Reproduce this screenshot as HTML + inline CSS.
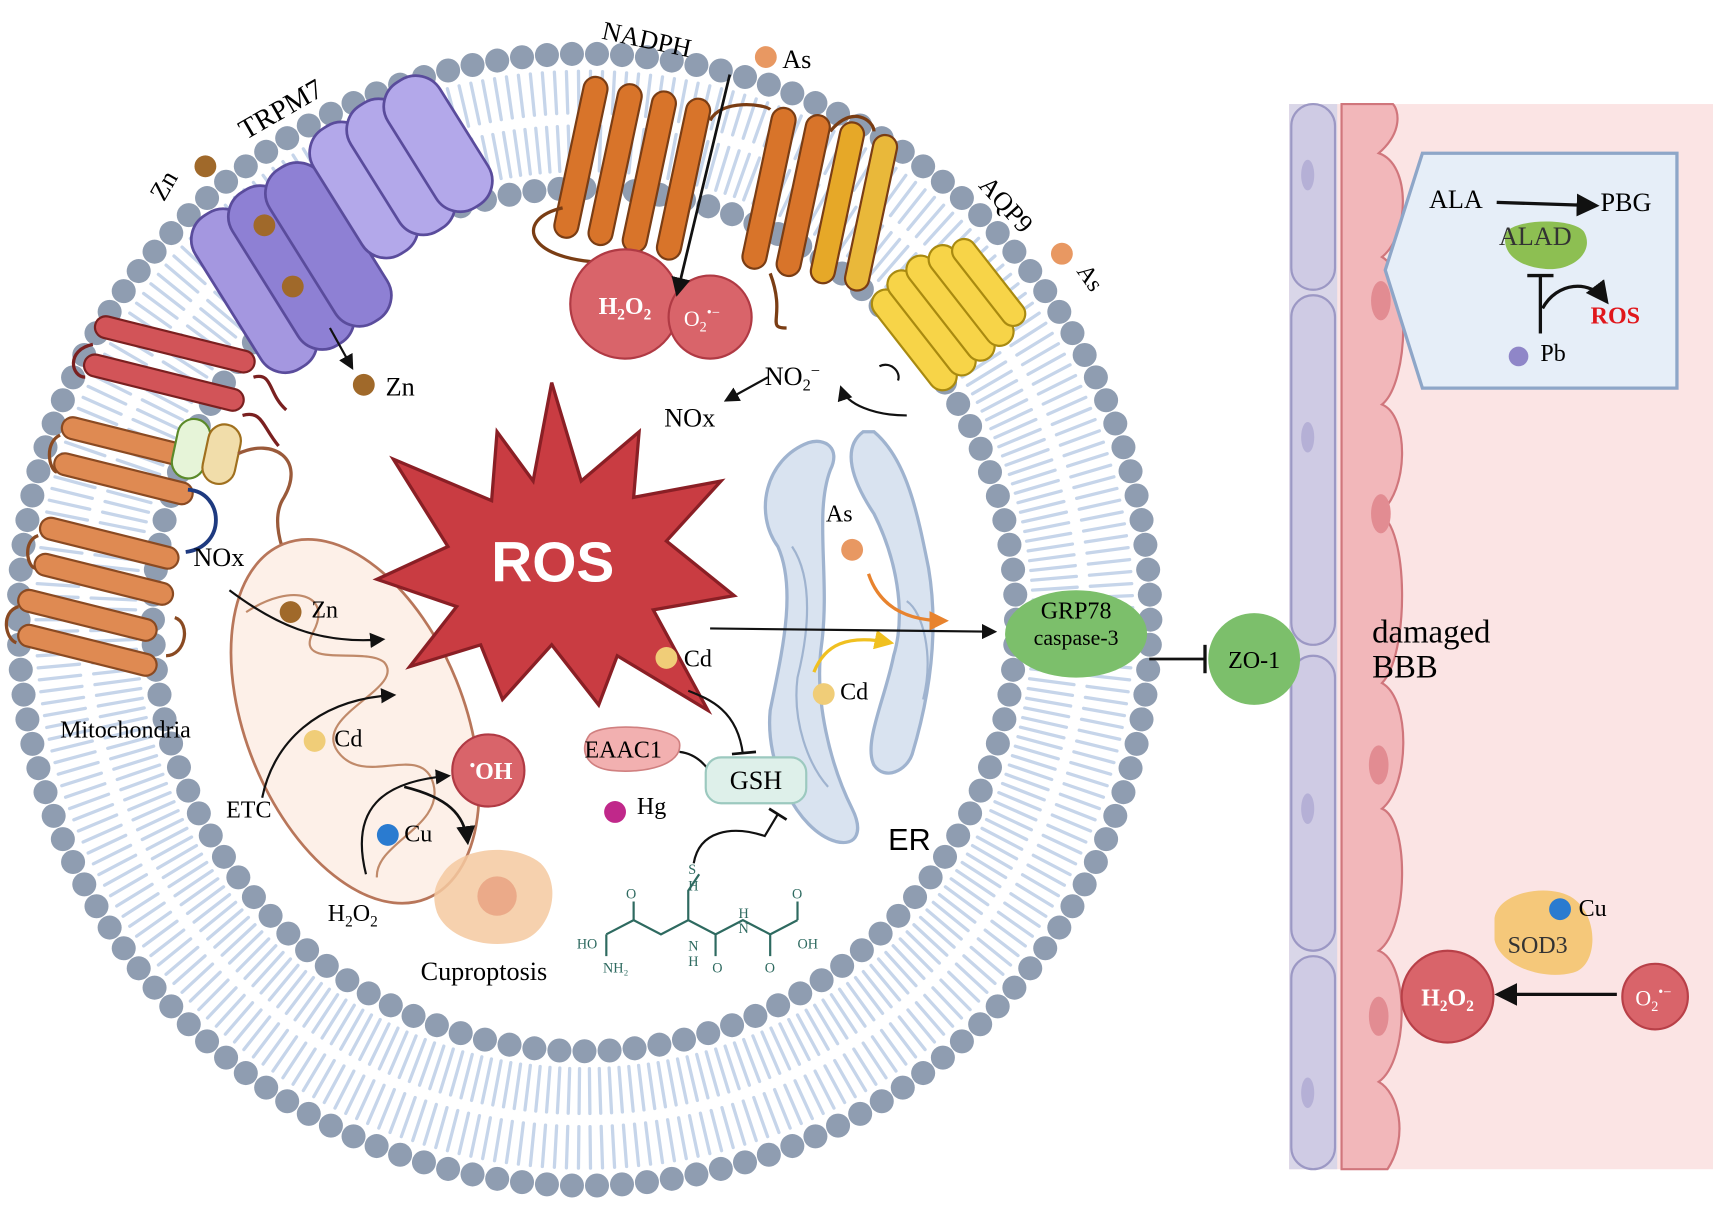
<!DOCTYPE html>
<html><head><meta charset="utf-8"><style>
html,body{margin:0;padding:0;background:#fff;}
svg{display:block;}
text{font-family:"Liberation Serif",serif;}
.sans{font-family:"Liberation Sans",sans-serif;}
</style></head><body>
<svg id="s" width="1713" height="1211" viewBox="0 0 1568 1108" xmlns="http://www.w3.org/2000/svg">
<defs>
<marker id="ah" viewBox="0 0 10 10" refX="8" refY="5" markerWidth="7" markerHeight="7" orient="auto"><path d="M0,0 L10,5 L0,10 z" fill="#111"/></marker>
<marker id="aho" viewBox="0 0 10 10" refX="8" refY="5" markerWidth="6" markerHeight="6" orient="auto"><path d="M0,0 L10,5 L0,10 z" fill="#e8832e"/></marker>
<marker id="ahy" viewBox="0 0 10 10" refX="8" refY="5" markerWidth="6" markerHeight="6" orient="auto"><path d="M0,0 L10,5 L0,10 z" fill="#f0c020"/></marker>
</defs>

<!-- right panel -->
<rect x="1180" y="95" width="388" height="975" fill="#fbe4e4"/>
<rect x="1180" y="95" width="44" height="975" fill="#d9d6e8"/>
<g fill="#cfcbe4" stroke="#9c98c4" stroke-width="2">
<rect x="1182" y="95" width="40" height="170" rx="20"/>
<rect x="1182" y="270" width="40" height="320" rx="20"/>
<rect x="1182" y="600" width="40" height="270" rx="20"/>
<rect x="1182" y="875" width="40" height="195" rx="20"/>
</g>
<g fill="#b5b0d6"><ellipse cx="1197" cy="160" rx="6" ry="14"/><ellipse cx="1197" cy="400" rx="6" ry="14"/><ellipse cx="1197" cy="740" rx="6" ry="14"/><ellipse cx="1197" cy="1000" rx="6" ry="14"/></g>
<g fill="#f2b7ba" stroke="#d0767c" stroke-width="2">
<path d="M1228,95 L1228,1070 L1270,1070 C1290,1040 1280,1000 1262,990 C1290,970 1290,880 1262,870 C1290,850 1290,750 1265,740 C1290,720 1292,640 1265,625 C1290,600 1290,480 1262,470 C1290,450 1290,380 1265,370 C1290,350 1292,250 1265,235 C1290,215 1292,150 1262,140 C1285,120 1280,100 1275,95 Z"/>
</g>
<g fill="#e28c92"><ellipse cx="1264" cy="275" rx="9" ry="18"/><ellipse cx="1264" cy="470" rx="9" ry="18"/><ellipse cx="1262" cy="700" rx="9" ry="18"/><ellipse cx="1262" cy="930" rx="9" ry="18"/></g>
<text x="1256" y="588" font-size="30">damaged</text>
<text x="1256" y="620" font-size="30">BBB</text>
<!-- inset -->
<path d="M1302,140 L1535,140 L1535,355 L1302,355 L1268,247 Z" fill="#e6eef8" stroke="#8ea6c8" stroke-width="3"/>
<text x="1308" y="190" font-size="24">ALA</text>
<line x1="1370" y1="185" x2="1460" y2="188" stroke="#111" stroke-width="3" marker-end="url(#ah)"/>
<text x="1465" y="193" font-size="24">PBG</text>
<path d="M1378,215 C1380,200 1440,198 1450,212 C1460,230 1440,248 1415,246 C1390,244 1375,232 1378,215 Z" fill="#8dbf52"/>
<text x="1372" y="224" font-size="24" fill="#333">ALAD</text>
<line x1="1410" y1="305" x2="1410" y2="252" stroke="#111" stroke-width="3"/>
<line x1="1398" y1="252" x2="1422" y2="252" stroke="#111" stroke-width="3"/>
<path d="M1412,282 C1425,258 1455,255 1470,275" fill="none" stroke="#111" stroke-width="3" marker-end="url(#ah)"/>
<text x="1456" y="296" font-size="22" font-weight="bold" fill="#e0161b">ROS</text>
<circle cx="1390" cy="326" r="9" fill="#8f86c8"/>
<text x="1410" y="330" font-size="22">Pb</text>
<!-- SOD3 -->
<path d="M1368,840 C1372,815 1420,808 1440,822 C1465,840 1462,885 1440,890 C1410,898 1372,882 1368,860 Z" fill="#f5c87a"/>
<text x="1380" y="872" font-size="22" fill="#333">SOD3</text>
<circle cx="1428" cy="832" r="10" fill="#2a7bd0"/>
<text x="1445" y="838" font-size="22">Cu</text>
<circle cx="1325" cy="912" r="42" fill="#d9646a" stroke="#b84048" stroke-width="2"/>
<text x="1325" y="920" font-size="22" fill="#fff" font-weight="bold" text-anchor="middle">H<tspan font-size="14" dy="5">2</tspan><tspan dy="-5">O</tspan><tspan font-size="14" dy="5">2</tspan></text>
<circle cx="1515" cy="912" r="30" fill="#d9646a" stroke="#b84048" stroke-width="2"/>
<text x="1497" y="920" font-size="20" fill="#fff">O<tspan font-size="13" dy="5">2</tspan><tspan font-size="13" dy="-13">•−</tspan></text>
<line x1="1480" y1="910" x2="1372" y2="910" stroke="#111" stroke-width="3" marker-end="url(#ah)"/>

<!-- membrane -->
<g id="mem"></g>

<!-- TRPM7 -->
<g transform="rotate(-32 300 215)" stroke="#5a4c9c" stroke-width="2.5">
<rect x="188" y="140" width="56" height="165" rx="26" fill="#a497e0"/>
<rect x="228" y="140" width="56" height="165" rx="26" fill="#8e80d4"/>
<rect x="268" y="140" width="56" height="165" rx="26" fill="#8e80d4"/>
<rect x="322" y="130" width="56" height="135" rx="26" fill="#b3a8ea"/>
<rect x="362" y="130" width="56" height="135" rx="26" fill="#b3a8ea"/>
<rect x="402" y="130" width="56" height="135" rx="26" fill="#b3a8ea"/>
</g>
<circle cx="242" cy="206" r="10" fill="#a0692a"/><circle cx="268" cy="262" r="10" fill="#a0692a"/>
<circle cx="188" cy="152" r="10" fill="#a0692a"/>
<text x="150" y="185" font-size="24" transform="rotate(-60 150 185)">Zn</text>
<text x="225" y="128" font-size="26" transform="rotate(-30 225 128)">TRPM7</text>
<line x1="302" y1="300" x2="322" y2="336" stroke="#111" stroke-width="2" marker-end="url(#ah)"/>
<circle cx="333" cy="352" r="10" fill="#a0692a"/><text x="353" y="362" font-size="24">Zn</text>

<!-- NADPH -->
<text x="550" y="35" font-size="24" transform="rotate(12 550 35)">NADPH</text>
<circle cx="701" cy="52" r="10" fill="#e89862"/><text x="716" y="62" font-size="24">As</text>
<g stroke="#7a3d14" stroke-width="2" fill="#d8742a">
<g transform="rotate(12 560 160)">
<rect x="518" y="75" width="22" height="150" rx="11"/><rect x="550" y="75" width="22" height="150" rx="11"/><rect x="582" y="75" width="22" height="150" rx="11"/><rect x="614" y="75" width="22" height="150" rx="11"/>
</g>
<g transform="rotate(12 740 190)">
<rect x="690" y="105" width="22" height="150" rx="11"/><rect x="722" y="105" width="22" height="150" rx="11"/>
<rect x="754" y="105" width="22" height="150" rx="11" fill="#e6a828"/><rect x="786" y="110" width="22" height="145" rx="11" fill="#e9b83a"/>
</g>
</g>
<path d="M515,190 C470,200 480,240 560,240 M650,110 C660,90 700,95 705,100 M705,250 C720,290 700,300 720,300 M760,120 C780,95 800,110 800,120" fill="none" stroke="#7a3d14" stroke-width="3"/>
<circle cx="572" cy="278" r="50" fill="#d9646a" stroke="#b03a44" stroke-width="2"/>
<text x="572" y="287" font-size="22" fill="#fff" font-weight="bold" text-anchor="middle">H<tspan font-size="14" dy="5">2</tspan><tspan dy="-5">O</tspan><tspan font-size="14" dy="5">2</tspan></text>
<circle cx="650" cy="290" r="38" fill="#d9646a" stroke="#b03a44" stroke-width="2"/>
<text x="626" y="298" font-size="20" fill="#fff">O<tspan font-size="13" dy="5">2</tspan><tspan font-size="13" dy="-13">•−</tspan></text>
<line x1="668" y1="68" x2="620" y2="268" stroke="#111" stroke-width="2.5" marker-end="url(#ah)"/>

<!-- AQP9 -->
<text x="895" y="170" font-size="24" transform="rotate(48 895 170)">AQP9</text>
<circle cx="972" cy="232" r="10" fill="#e89862"/><text x="985" y="248" font-size="22" transform="rotate(55 985 248)">As</text>
<g transform="rotate(-38 870 285)" fill="#f7d448" stroke="#a98a10" stroke-width="2">
<rect x="815" y="230" width="26" height="110" rx="13"/><rect x="837" y="225" width="26" height="115" rx="13"/><rect x="859" y="225" width="26" height="115" rx="13"/><rect x="881" y="230" width="26" height="110" rx="13"/><rect x="903" y="238" width="22" height="95" rx="11"/>
</g>
<text x="700" y="352" font-size="24">NO<tspan font-size="15" dy="5">2</tspan><tspan font-size="15" dy="-13">−</tspan></text>
<text x="608" y="390" font-size="24">NOx</text>
<line x1="703" y1="345" x2="665" y2="366" stroke="#111" stroke-width="2" marker-end="url(#ah)"/>
<path d="M830,380 C800,380 775,370 770,355" fill="none" stroke="#111" stroke-width="2" marker-end="url(#ah)"/>
<path d="M805,335 C815,330 825,340 822,348" fill="none" stroke="#111" stroke-width="2"/>

<!-- left membrane proteins -->
<g stroke="#7a2020" stroke-width="2" fill="#d25458">
<rect x="85" y="305" width="150" height="20" rx="10" transform="rotate(14 160 315)"/>
<rect x="75" y="340" width="150" height="20" rx="10" transform="rotate(14 150 350)"/>
</g>
<path d="M85,315 C60,320 65,345 78,345 M232,345 C250,340 245,360 262,375 M222,380 C240,375 240,390 255,408" fill="none" stroke="#7a2020" stroke-width="3"/>
<g stroke="#8a4a22" stroke-width="2" fill="#df8a52">
<rect x="55" y="395" width="130" height="20" rx="10" transform="rotate(14 120 405)"/>
<rect x="48" y="428" width="130" height="20" rx="10" transform="rotate(14 113 438)"/>
<rect x="35" y="487" width="130" height="20" rx="10" transform="rotate(14 100 497)"/>
<rect x="30" y="520" width="130" height="20" rx="10" transform="rotate(14 95 530)"/>
<rect x="15" y="553" width="130" height="20" rx="10" transform="rotate(14 80 563)"/>
<rect x="15" y="585" width="130" height="20" rx="10" transform="rotate(14 80 595)"/>
</g>
<path d="M55,398 C40,405 45,430 52,432 M35,490 C20,495 25,520 33,520 M17,555 C0,560 5,585 15,588 M160,565 C175,570 170,600 152,600" fill="none" stroke="#8a4a22" stroke-width="3"/>
<path d="M172,448 C205,450 208,500 170,505" fill="none" stroke="#1e3a80" stroke-width="3.5"/>
<rect x="160" y="383" width="30" height="55" rx="15" fill="#e6f4d8" stroke="#5b8a2a" stroke-width="2" transform="rotate(12 175 410)"/>
<rect x="188" y="388" width="30" height="55" rx="15" fill="#f1ddaa" stroke="#a0701e" stroke-width="2" transform="rotate(12 203 415)"/>
<path d="M218,415 C250,400 280,420 260,455 C250,470 255,490 258,500" fill="none" stroke="#9a5a3a" stroke-width="3"/>
<text x="177" y="518" font-size="24">NOx</text>

<!-- mitochondria -->
<g transform="rotate(-22 325 660)">
<ellipse cx="325" cy="660" rx="100" ry="175" fill="#fdf0e8" stroke="#b8765a" stroke-width="2.5"/>
<path d="M270,530 C320,520 350,545 320,570 C290,595 360,600 370,620 C380,650 290,640 300,680 C310,720 375,700 370,740 C365,780 300,770 290,800" fill="none" stroke="#c08a6a" stroke-width="2"/>
</g>
<path d="M210,540 C250,570 290,590 350,585" fill="none" stroke="#111" stroke-width="2" marker-end="url(#ah)"/>
<circle cx="266" cy="560" r="10" fill="#a0692a"/><text x="285" y="565" font-size="22">Zn</text>
<path d="M240,730 C250,680 290,640 360,636" fill="none" stroke="#111" stroke-width="2" marker-end="url(#ah)"/>
<circle cx="288" cy="678" r="10" fill="#f0cd78"/><text x="306" y="683" font-size="22">Cd</text>
<text x="55" y="675" font-size="22">Mitochondria</text>
<text x="207" y="748" font-size="22">ETC</text>
<path d="M335,800 C320,740 350,715 410,710" fill="none" stroke="#111" stroke-width="2" marker-end="url(#ah)"/>
<path d="M370,720 C410,730 425,745 428,770" fill="none" stroke="#111" stroke-width="2.5" marker-end="url(#ah)"/>
<circle cx="355" cy="764" r="10" fill="#2a7bd0"/><text x="370" y="770" font-size="22">Cu</text>
<text x="300" y="843" font-size="22">H<tspan font-size="14" dy="5">2</tspan><tspan dy="-5">O</tspan><tspan font-size="14" dy="5">2</tspan></text>
<circle cx="447" cy="705" r="33" fill="#d9646a" stroke="#b03a44" stroke-width="2"/>
<text x="430" y="713" font-size="22" fill="#fff" font-weight="bold"><tspan font-size="14" dy="-8">•</tspan><tspan dy="8">OH</tspan></text>
<!-- cuproptosis -->
<path d="M405,800 C420,775 470,770 495,790 C515,810 505,850 480,860 C450,870 410,860 400,835 C395,820 398,810 405,800 Z" fill="#f5c9a0" opacity="0.85"/>
<circle cx="455" cy="820" r="18" fill="#e8a080" opacity="0.8"/>
<text x="385" y="897" font-size="24">Cuproptosis</text>

<!-- ROS star -->
<path d="M505,350 L532,440 L585,395 L580,455 L660,440 L610,495 L672,545 L598,558 L648,650 L565,600 L548,645 L505,590 L460,640 L440,590 L375,610 L418,555 L345,530 L410,500 L360,420 L450,458 L455,395 L488,440 Z" fill="#c93c42" stroke="#8a1f25" stroke-width="3"/>
<text x="506" y="532" font-size="52" font-weight="bold" fill="#fff" text-anchor="middle" class="sans">ROS</text>

<!-- ER -->
<g fill="none" stroke="#9fb3cf" stroke-width="3">
<path d="M740,405 C700,420 690,470 712,500 C730,540 715,600 705,650 C700,700 730,760 765,770 C785,775 790,760 780,740 C760,700 745,640 752,590 C760,530 745,470 760,430 C770,410 755,400 740,405 Z" fill="#d9e3f0"/>
<path d="M790,395 C770,410 780,440 800,470 C820,510 830,560 818,600 C810,640 790,680 800,700 C810,715 830,705 835,690 C850,640 860,580 850,520 C840,470 830,420 800,395 Z" fill="#d9e3f0"/>
<path d="M725,500 C745,530 740,580 730,620 C725,660 740,700 758,720" stroke-width="2"/>
<path d="M830,550 C845,560 855,600 845,640" stroke-width="2"/>
</g>
<text x="813" y="778" font-size="28" class="sans">ER</text>
<text x="756" y="477" font-size="22">As</text>
<circle cx="780" cy="503" r="10" fill="#e89862"/>
<path d="M795,525 C805,555 830,568 865,568" fill="none" stroke="#e8832e" stroke-width="3" marker-end="url(#aho)"/>
<circle cx="754" cy="635" r="10" fill="#f0cd78"/><text x="769" y="640" font-size="22">Cd</text>
<path d="M745,615 C755,590 775,580 815,588" fill="none" stroke="#f0c020" stroke-width="3" marker-end="url(#ahy)"/>

<!-- Cd/GSH -->
<circle cx="610" cy="602" r="10" fill="#f0cd78"/><text x="626" y="610" font-size="22">Cd</text>
<line x1="650" y1="575" x2="910" y2="578" stroke="#111" stroke-width="2" marker-end="url(#ah)"/>
<path d="M630,632 C650,640 675,650 680,690" fill="none" stroke="#111" stroke-width="2"/>
<line x1="670" y1="690" x2="692" y2="688" stroke="#111" stroke-width="2.5"/>
<path d="M540,672 C555,660 620,665 622,680 C625,700 590,708 560,705 C535,702 530,685 540,672 Z" fill="#f2b0b0" stroke="#d08080" stroke-width="1.5"/>
<text x="535" y="693" font-size="22">EAAC1</text>
<path d="M622,688 C640,690 650,705 655,715" fill="none" stroke="#111" stroke-width="2"/>
<rect x="646" y="693" width="92" height="42" rx="14" fill="#def0ea" stroke="#9cc9bf" stroke-width="2"/>
<text x="692" y="722" font-size="24" text-anchor="middle">GSH</text>
<circle cx="563" cy="743" r="10" fill="#c0288a"/><text x="583" y="745" font-size="22">Hg</text>
<path d="M635,790 C640,760 670,755 700,765 L712,745" fill="none" stroke="#111" stroke-width="2"/>
<line x1="704" y1="740" x2="720" y2="750" stroke="#111" stroke-width="2.5"/>
<!-- glutathione structure -->
<g stroke="#2e6a60" stroke-width="2" fill="none">
<path d="M555,855 L580,842 L605,855 L630,842 L655,855 L680,842 L705,855 L730,842"/>
<path d="M580,842 L580,825 M555,855 L555,875 M630,842 L630,815 L640,800 M655,855 L655,875 M705,855 L705,875 M730,842 L730,825"/>
</g>
<g fill="#2e6a60" font-size="13" class="sans">
<text x="573" y="822">O</text><text x="528" y="868">HO</text><text x="552" y="890">NH₂</text><text x="630" y="800">S</text><text x="630" y="815">H</text>
<text x="630" y="870">N</text><text x="630" y="884">H</text><text x="676" y="840">H</text><text x="676" y="854">N</text><text x="652" y="890">O</text><text x="700" y="890">O</text><text x="725" y="822">O</text><text x="730" y="868">OH</text>
</g>

<!-- GRP78 / ZO-1 -->
<ellipse cx="985" cy="580" rx="65" ry="40" fill="#7cbf6b"/>
<text x="985" y="566" font-size="22" text-anchor="middle">GRP78</text>
<text x="985" y="590" font-size="20" text-anchor="middle">caspase-3</text>
<line x1="1052" y1="603" x2="1103" y2="603" stroke="#111" stroke-width="2.5"/>
<line x1="1103" y1="590" x2="1103" y2="616" stroke="#111" stroke-width="3"/>
<circle cx="1148" cy="603" r="42" fill="#7cbf6b"/>
<text x="1148" y="611" font-size="22" text-anchor="middle">ZO-1</text>
</svg>
<script>
(function(){
var g=document.getElementById("mem"),cx=535,cy=567,Ro=518,Ri=395;
var s="";
var n=Math.round(2*Math.PI*455/10);
for(var i=0;i<n;i++){var a=i/n*2*Math.PI;var c=Math.cos(a),si=Math.sin(a);
var r1=Ri+16,r2=452;
s+='<line x1="'+(cx+r1*c)+'" y1="'+(cy+r1*si)+'" x2="'+(cx+r2*c)+'" y2="'+(cy+r2*si)+'"/>';
r1=464;r2=Ro-16;
s+='<line x1="'+(cx+r1*c)+'" y1="'+(cy+r1*si)+'" x2="'+(cx+r2*c)+'" y2="'+(cy+r2*si)+'"/>';}
var d="";
var no=Math.round(2*Math.PI*Ro/23);
for(i=0;i<no;i++){var a=i/no*2*Math.PI;d+='<circle cx="'+(cx+Ro*Math.cos(a))+'" cy="'+(cy+Ro*Math.sin(a))+'" r="11"/>';}
var ni=Math.round(2*Math.PI*Ri/23);
for(i=0;i<ni;i++){var a=i/ni*2*Math.PI;d+='<circle cx="'+(cx+Ri*Math.cos(a))+'" cy="'+(cy+Ri*Math.sin(a))+'" r="11"/>';}
g.innerHTML='<g stroke="#c6d5ea" stroke-width="3" stroke-linecap="round">'+s+'</g><g fill="#8f9db1">'+d+'</g>';
})();
</script>
</body></html>
